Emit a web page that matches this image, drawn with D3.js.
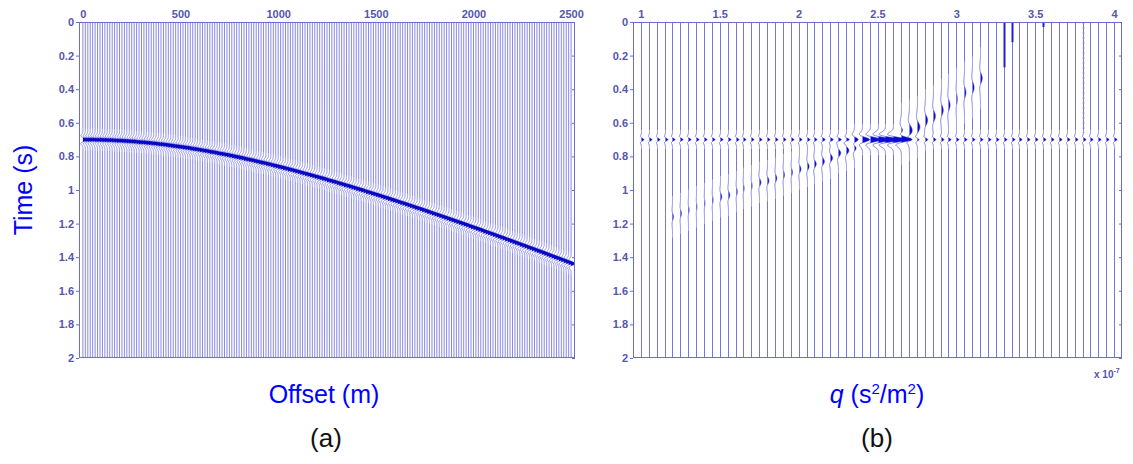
<!DOCTYPE html>
<html>
<head>
<meta charset="utf-8">
<script src="https://cdn.jsdelivr.net/npm/d3@7"></script>
<style>
  body { margin: 0; background: #fff; }
  svg { display: block; }
</style>
</head>
<body>
<svg id="chart" width="1133" height="464"></svg>
<script>
// ---------------- data ----------------
// (a) CMP gather: source-receiver offsets (m) and reflection arrival time on each trace (s)
const offsets = [
  0,12.5,25,37.5,50,62.5,75,87.5,100,112.5,125,137.5,150,162.5,175,187.5,200,212.5,225,237.5,
  250,262.5,275,287.5,300,312.5,325,337.5,350,362.5,375,387.5,400,412.5,425,437.5,450,462.5,475,487.5,
  500,512.5,525,537.5,550,562.5,575,587.5,600,612.5,625,637.5,650,662.5,675,687.5,700,712.5,725,737.5,
  750,762.5,775,787.5,800,812.5,825,837.5,850,862.5,875,887.5,900,912.5,925,937.5,950,962.5,975,987.5,
  1000,1012.5,1025,1037.5,1050,1062.5,1075,1087.5,1100,1112.5,1125,1137.5,1150,1162.5,1175,1187.5,1200,1212.5,1225,1237.5,
  1250,1262.5,1275,1287.5,1300,1312.5,1325,1337.5,1350,1362.5,1375,1387.5,1400,1412.5,1425,1437.5,1450,1462.5,1475,1487.5,
  1500,1512.5,1525,1537.5,1550,1562.5,1575,1587.5,1600,1612.5,1625,1637.5,1650,1662.5,1675,1687.5,1700,1712.5,1725,1737.5,
  1750,1762.5,1775,1787.5,1800,1812.5,1825,1837.5,1850,1862.5,1875,1887.5,1900,1912.5,1925,1937.5,1950,1962.5,1975,1987.5,
  2000,2012.5,2025,2037.5,2050,2062.5,2075,2087.5,2100,2112.5,2125,2137.5,2150,2162.5,2175,2187.5,2200,2212.5,2225,2237.5,
  2250,2262.5,2275,2287.5,2300,2312.5,2325,2337.5,2350,2362.5,2375,2387.5,2400,2412.5,2425,2437.5,2450,2462.5,2475,2487.5,
  2500
];
const arrivalTimes = [
  0.700,0.700,0.700,0.700,0.700,0.701,0.701,0.701,0.702,0.702,0.703,0.703,0.704,0.705,0.706,0.706,0.707,0.708,0.709,0.710,
  0.711,0.712,0.714,0.715,0.716,0.717,0.719,0.720,0.722,0.723,0.725,0.727,0.728,0.730,0.732,0.734,0.736,0.738,0.740,0.742,
  0.744,0.746,0.748,0.750,0.753,0.755,0.757,0.760,0.762,0.765,0.767,0.770,0.773,0.775,0.778,0.781,0.784,0.786,0.789,0.792,
  0.795,0.798,0.801,0.804,0.807,0.810,0.814,0.817,0.820,0.823,0.827,0.830,0.834,0.837,0.840,0.844,0.847,0.851,0.855,0.858,
  0.862,0.865,0.869,0.873,0.877,0.880,0.884,0.888,0.892,0.896,0.900,0.904,0.908,0.912,0.916,0.920,0.924,0.928,0.932,0.936,
  0.941,0.945,0.949,0.953,0.958,0.962,0.966,0.971,0.975,0.979,0.984,0.988,0.993,0.997,1.001,1.006,1.011,1.015,1.020,1.024,
  1.029,1.033,1.038,1.043,1.047,1.052,1.057,1.061,1.066,1.071,1.076,1.080,1.085,1.090,1.095,1.100,1.105,1.109,1.114,1.119,
  1.124,1.129,1.134,1.139,1.144,1.149,1.154,1.159,1.164,1.169,1.174,1.179,1.184,1.189,1.194,1.199,1.204,1.209,1.215,1.220,
  1.225,1.230,1.235,1.240,1.246,1.251,1.256,1.261,1.266,1.272,1.277,1.282,1.287,1.293,1.298,1.303,1.309,1.314,1.319,1.325,
  1.330,1.335,1.341,1.346,1.351,1.357,1.362,1.367,1.373,1.378,1.384,1.389,1.395,1.400,1.405,1.411,1.416,1.422,1.427,1.433,
  1.438
];
const offsetTicks = [0, 500, 1000, 1500, 2000, 2500];
const timeTicks = [0, 0.2, 0.4, 0.6, 0.8, 1, 1.2, 1.4, 1.6, 1.8, 2];

// (b) parabolic Radon panel: curvature q (x 10^-7 s^2/m^2) of each trace
const qValues = [
  1.00,1.05,1.10,1.15,1.20,1.25,1.30,1.35,1.40,1.45,1.50,1.55,1.60,1.65,1.70,1.75,1.80,1.85,1.90,1.95,
  2.00,2.05,2.10,2.15,2.20,2.25,2.30,2.35,2.40,2.45,2.50,2.55,2.60,2.65,2.70,2.75,2.80,2.85,2.90,2.95,
  3.00,3.05,3.10,3.15,3.20,3.25,3.30,3.35,3.40,3.45,3.50,3.55,3.60,3.65,3.70,3.75,3.80,3.85,3.90,3.95,
  4.00
];
const qTicks = [1, 1.5, 2, 2.5, 3, 3.5, 4];
const focusTime = 0.70;
// amplitude at the zero-offset time on each q trace (in trace spacings)
const focusAmp = [
  0.30,0.30,0.30,0.30,0.30,0.30,0.30,0.30,0.30,0.30,0.30,0.30,0.30,0.30,0.30,0.30,0.30,0.30,0.30,0.30,
  0.30,0.30,0.30,0.32,0.34,0.36,0.40,0.60,0.90,1.30,1.60,1.80,1.70,1.20,0.45,0.30,0.30,0.30,0.30,0.30,
  0.30,0.30,0.30,0.30,0.30,0.30,0.30,0.30,0.30,0.30,0.30,0.30,0.30,0.30,0.30,0.30,0.30,0.30,0.30,0.30,
  0.30
];
// smeared energy below the focus (low q, later time)
const lowerSmearQ    = [1.20,1.25,1.30,1.35,1.40,1.45,1.50,1.55,1.60,1.65,1.70,1.75,1.80,1.85,1.90,1.95,2.00,2.05,2.10,2.15,2.20,2.25,2.30,2.35];
const lowerSmearTime = [1.16,1.14,1.12,1.10,1.08,1.06,1.04,1.03,1.01,0.99,0.975,0.955,0.945,0.93,0.91,0.895,0.875,0.86,0.845,0.83,0.81,0.78,0.765,0.745];
const lowerSmearAmp  = [0.12,0.12,0.08,0.06,0.06,0.08,0.16,0.16,0.10,0.08,0.08,0.18,0.18,0.16,0.12,0.12,0.18,0.20,0.22,0.24,0.26,0.28,0.30,0.32];
// smeared energy above the focus (high q, earlier time)
const upperSmearQ    = [2.65,2.70,2.75,2.80,2.85,2.90,2.95,3.00,3.05,3.10,3.15];
const upperSmearTime = [0.665,0.645,0.625,0.585,0.56,0.525,0.495,0.46,0.42,0.39,0.335];
const upperSmearAmp  = [0.40,0.34,0.30,0.26,0.24,0.22,0.20,0.10,0.18,0.20,0.22];
// truncation streaks near the top of the panel
const streakQ   = [3.30, 3.35, 3.55, 3.80];
const streakEnd = [0.27, 0.12, 0.03, 0.66];

// ---------------- drawing ----------------
const svg = d3.select("#chart");
const TOP = 22, BOTTOM = 358;
const tickFont = "bold 11px 'Liberation Sans', Arial, sans-serif";
const tickColor = "#5555ad";
const frameColor = "#6c6cd2";

// Ricker wavelet used for every reflection on the traces
function ricker(tau, f) {
  const a = (Math.PI * f * tau) ** 2;
  return (1 - 2 * a) * Math.exp(-a);
}

// sample a trace: straight outside the wavelets, dense inside them
function samples(events) {
  const ts = [0, 2];
  events.forEach(e => {
    const half = 1.1 / e.f;
    const a = Math.max(0, e.t - half), b = Math.min(2, e.t + half);
    for (let t = a; t <= b; t += 0.001) ts.push(t);
  });
  ts.sort((p, q) => p - q);
  return ts.map(t => ({ t, v: d3.sum(events, e => e.a * ricker(t - e.t, e.f)) }));
}

function panel(cfg) {
  const x = d3.scaleLinear().domain(cfg.xDomain).range([cfg.left, cfg.right]);
  const y = d3.scaleLinear().domain([0, 2]).range([TOP, BOTTOM]);
  const spacing = x(cfg.positions[1]) - x(cfg.positions[0]);
  const g = svg.append("g");

  const clipId = "clip-" + cfg.name;
  svg.append("clipPath").attr("id", clipId).append("rect")
    .attr("x", cfg.left).attr("y", TOP).attr("width", cfg.right - cfg.left).attr("height", BOTTOM - TOP);

  // wide traces snap to pixel centres so every line renders with the same weight
  const basePos = p => cfg.snap ? Math.round(x(p)) + 0.5 : x(p);
  const traces = cfg.positions.map((p, i) => ({ base: basePos(p), pts: samples(cfg.events[i]) }));

  const body = g.append("g").attr("clip-path", `url(#${clipId})`);
  body.selectAll("path.trace").data(traces).join("path")
    .attr("class", "trace")
    .attr("fill", "none")
    .attr("stroke", cfg.traceColor)
    .attr("stroke-width", cfg.traceWidth)
    .attr("d", d => d3.line().x(s => d.base + s.v * spacing).y(s => y(s.t))(d.pts));

  body.selectAll("path.lobe").data(traces).join("path")
    .attr("class", "lobe")
    .attr("fill", cfg.fillColor)
    .attr("stroke", "none")
    .attr("d", d => d3.area().y(s => y(s.t)).x0(d.base).x1(s => d.base + Math.max(0, s.v) * spacing)(d.pts));

  if (cfg.extra) cfg.extra(body, basePos, y);

  // frame
  g.append("rect")
    .attr("x", cfg.left + 0.5).attr("y", TOP + 0.5)
    .attr("width", cfg.right - cfg.left - 1).attr("height", BOTTOM - TOP - 1)
    .attr("fill", "none").attr("stroke", frameColor).attr("stroke-width", 1);

  const ax = g.append("g").attr("transform", `translate(0,${TOP})`)
    .call(d3.axisTop(x).tickValues(cfg.xTicks).tickSize(0).tickPadding(4).tickFormat(d3.format("~g")));
  const ay = g.append("g").attr("transform", `translate(${cfg.left},0)`)
    .call(d3.axisLeft(y).tickValues(timeTicks).tickSize(3).tickPadding(2).tickFormat(d3.format("~g")));
  const ar = g.append("g").attr("transform", `translate(${cfg.right},0)`)
    .call(d3.axisLeft(y).tickValues(timeTicks).tickSize(3).tickFormat(""));
  [ax, ay, ar].forEach(a => {
    a.select(".domain").remove();
    a.selectAll("line").attr("stroke", frameColor);
    a.selectAll("text").style("font", tickFont).attr("fill", tickColor);
  });
  return { x, y };
}

// ----- (a) hyperbolic reflection in offset -----
panel({
  name: "a",
  left: 79, right: 575,
  xDomain: [-20, 2520],
  xTicks: offsetTicks,
  positions: offsets,
  events: arrivalTimes.map(t => [{ t, a: 1.9, f: 17 }]),
  traceColor: "#7a7ae2", traceWidth: 0.9,
  fillColor: "#0606c4"
});

// ----- (b) parabolic Radon transform -----
const radonEvents = qValues.map((q, i) => {
  const a = focusAmp[i];
  const ev = [{ t: focusTime, a, f: a > 0.5 ? 12 : 20 }];
  lowerSmearQ.forEach((sq, k) => {
    if (Math.abs(sq - q) < 1e-6) ev.push({ t: lowerSmearTime[k], a: lowerSmearAmp[k], f: 9 });
  });
  upperSmearQ.forEach((sq, k) => {
    if (Math.abs(sq - q) < 1e-6) ev.push({ t: upperSmearTime[k], a: upperSmearAmp[k], f: 6 });
  });
  return ev;
});

panel({
  name: "b",
  left: 633, right: 1122,
  xDomain: [0.95, 4.05],
  xTicks: qTicks,
  positions: qValues,
  events: radonEvents,
  snap: true,
  traceColor: "#7575e4", traceWidth: 1.0,
  fillColor: "#0a0ad0",
  extra: (body, px, y) => {
    body.selectAll("line.streak").data(streakQ).join("line")
      .attr("class", "streak")
      .attr("x1", d => px(d)).attr("x2", d => px(d))
      .attr("y1", y(0)).attr("y2", (d, i) => y(streakEnd[i]))
      .attr("stroke", (d, i) => i === 3 ? "#8a8ad8" : "#2020c8")
      .attr("stroke-width", (d, i) => i === 3 ? 1.6 : 2)
      .attr("stroke-dasharray", (d, i) => i === 3 ? "2,3" : null);
  }
});

// ---------------- titles ----------------
const titleFont = "'Liberation Sans', Arial, sans-serif";
svg.append("text")
  .attr("transform", "translate(32,190) rotate(-90)")
  .attr("text-anchor", "middle")
  .style("font-family", titleFont).style("font-size", "25px")
  .attr("fill", "#0000ff")
  .text("Time (s)");

svg.append("text")
  .attr("x", 324).attr("y", 403).attr("text-anchor", "middle")
  .style("font-family", titleFont).style("font-size", "25px")
  .attr("fill", "#0000ff")
  .text("Offset (m)");

const qLabel = svg.append("text")
  .attr("x", 877).attr("y", 403).attr("text-anchor", "middle")
  .style("font-family", titleFont).style("font-size", "25px")
  .attr("fill", "#0000ff");
qLabel.append("tspan").style("font-style", "italic").text("q");
qLabel.append("tspan").text(" (s");
qLabel.append("tspan").attr("dy", -9).style("font-size", "15px").text("2");
qLabel.append("tspan").attr("dy", 9).text("/m");
qLabel.append("tspan").attr("dy", -9).style("font-size", "15px").text("2");
qLabel.append("tspan").attr("dy", 9).text(")");

svg.append("text")
  .attr("x", 326).attr("y", 447).attr("text-anchor", "middle")
  .style("font-family", titleFont).style("font-size", "26px")
  .attr("fill", "#111")
  .text("(a)");
svg.append("text")
  .attr("x", 877).attr("y", 447).attr("text-anchor", "middle")
  .style("font-family", titleFont).style("font-size", "26px")
  .attr("fill", "#111")
  .text("(b)");

const mult = svg.append("text")
  .attr("x", 1094).attr("y", 378)
  .style("font", "bold 10px 'Liberation Sans', Arial, sans-serif")
  .attr("fill", tickColor);
mult.append("tspan").text("x 10");
mult.append("tspan").attr("dy", -5).style("font-size", "7px").text("-7");
</script>
</body>
</html>
